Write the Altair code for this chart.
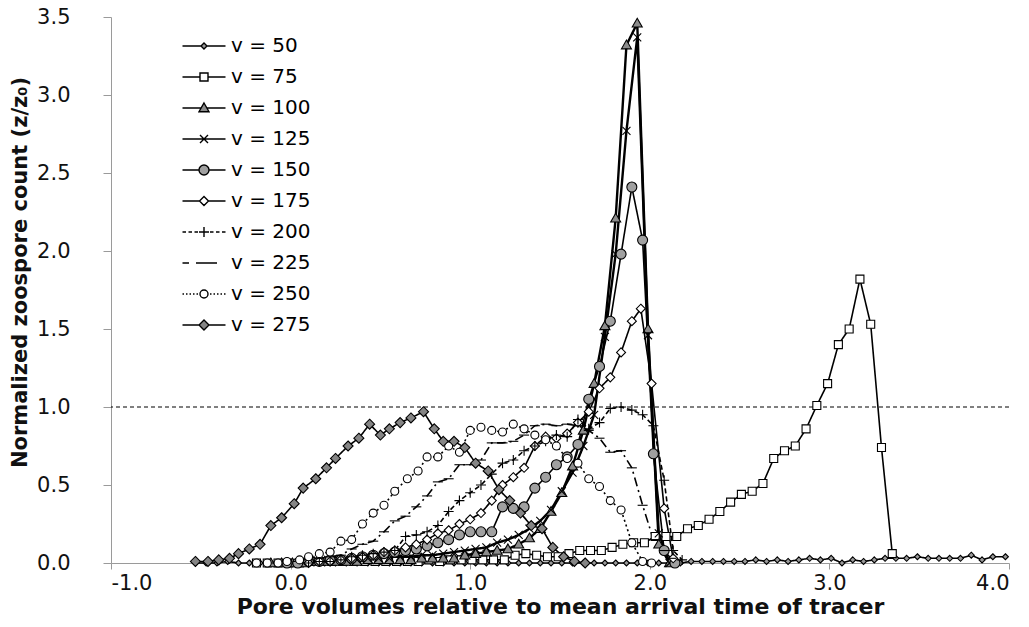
import altair as alt
import pandas as pd

series = ["v = 50", "v = 75", "v = 100", "v = 125", "v = 150",
          "v = 175", "v = 200", "v = 225", "v = 250", "v = 275"]

x50 = [-0.53, -0.47, -0.41, -0.35, -0.29, -0.23, -0.17, -0.11, -0.05, 0.01, 0.07, 0.13, 0.19, 0.25,
       0.31, 0.37, 0.43, 0.49, 0.55, 0.61, 0.67, 0.73, 0.79, 0.85, 0.91, 0.97, 1.03, 1.09, 1.15, 1.21,
       1.27, 1.33, 1.39, 1.45, 1.51, 1.57, 1.63, 1.69, 1.75, 1.81, 1.87, 1.93, 1.99, 2.05, 2.11, 2.17,
       2.23, 2.29, 2.35, 2.41, 2.47, 2.53, 2.59, 2.65, 2.71, 2.77, 2.83, 2.89, 2.95, 3.01, 3.07, 3.13,
       3.19, 3.25, 3.31, 3.37, 3.43, 3.49, 3.55, 3.61, 3.67, 3.73, 3.79, 3.85, 3.91, 3.98]
y50 = [0.00, 0.00, 0.00, 0.01, 0.00, 0.00, 0.00, 0.00, 0.00, 0.00, 0.00, 0.00, 0.00, 0.00,
       0.00, 0.00, 0.00, 0.00, 0.00, 0.00, 0.00, 0.00, 0.00, 0.00, 0.00, 0.00, 0.00, 0.00, 0.00, 0.00,
       0.00, 0.00, 0.00, 0.00, 0.00, 0.00, 0.00, 0.00, 0.00, 0.00, 0.00, 0.00, 0.00, 0.00, 0.00, 0.00,
       0.01, 0.01, 0.01, 0.01, 0.01, 0.01, 0.02, 0.01, 0.02, 0.01, 0.02, 0.03, 0.02, 0.03, 0.00, 0.02,
       0.01, 0.02, 0.03, 0.03, 0.03, 0.04, 0.03, 0.03, 0.03, 0.03, 0.05, 0.02, 0.04, 0.04]

x75 = [-0.19, -0.13, -0.07, -0.01, 0.05, 0.11, 0.17, 0.23, 0.29, 0.35, 0.41, 0.47, 0.53, 0.59, 0.65,
       0.71, 0.77, 0.83, 0.89, 0.95, 1.01, 1.07, 1.13, 1.19, 1.25, 1.31, 1.37, 1.43, 1.49, 1.55, 1.61,
       1.67, 1.73, 1.79, 1.85, 1.91, 1.97, 2.03, 2.09, 2.15, 2.21, 2.27, 2.33, 2.39, 2.45, 2.51, 2.57,
       2.63, 2.69, 2.75, 2.81, 2.87, 2.93, 2.99, 3.05, 3.11, 3.17, 3.23, 3.29, 3.35]
y75 = [0.00, 0.00, 0.00, 0.00, 0.00, 0.01, 0.01, 0.01, 0.01, 0.01, 0.01, 0.01, 0.01, 0.01, 0.01,
       0.01, 0.02, 0.01, 0.02, 0.02, 0.02, 0.02, 0.02, 0.02, 0.05, 0.06, 0.05, 0.04, 0.04, 0.06, 0.08,
       0.08, 0.08, 0.10, 0.12, 0.13, 0.13, 0.17, 0.17, 0.17, 0.22, 0.24, 0.28, 0.33, 0.39, 0.44, 0.46,
       0.51, 0.67, 0.72, 0.75, 0.86, 1.01, 1.15, 1.40, 1.50, 1.82, 1.53, 0.74, 0.06]

x100 = [-0.11, -0.05, 0.01, 0.07, 0.13, 0.19, 0.25, 0.31, 0.37, 0.43, 0.49, 0.55, 0.61, 0.67, 0.73,
        0.79, 0.85, 0.91, 0.97, 1.03, 1.09, 1.15, 1.21, 1.27, 1.33, 1.39, 1.45, 1.51, 1.57, 1.63, 1.69,
        1.75, 1.81, 1.87, 1.93, 1.99, 2.05, 2.11]
y100 = [0.00, 0.00, 0.00, 0.00, 0.01, 0.01, 0.01, 0.01, 0.01, 0.02, 0.02, 0.02, 0.02, 0.02, 0.03,
        0.03, 0.03, 0.03, 0.05, 0.06, 0.07, 0.08, 0.09, 0.12, 0.16, 0.22, 0.33, 0.45, 0.62, 0.85, 1.15,
        1.52, 2.21, 3.32, 3.46, 1.50, 0.12, 0.00]

x125 = [-0.05, 0.01, 0.07, 0.13, 0.19, 0.25, 0.31, 0.37, 0.43, 0.49, 0.55, 0.61, 0.67, 0.73, 0.79,
        0.85, 0.91, 0.97, 1.03, 1.09, 1.15, 1.21, 1.27, 1.33, 1.39, 1.45, 1.51, 1.57, 1.63, 1.69, 1.75,
        1.81, 1.87, 1.93, 1.99, 2.05, 2.11]
y125 = [0.00, 0.00, 0.01, 0.01, 0.01, 0.02, 0.02, 0.02, 0.03, 0.03, 0.03, 0.04, 0.04, 0.05, 0.05,
        0.06, 0.07, 0.08, 0.09, 0.10, 0.13, 0.15, 0.18, 0.22, 0.27, 0.34, 0.46, 0.58, 0.75, 0.95, 1.45,
        1.98, 2.77, 3.37, 1.46, 0.19, 0.00]

x150 = [-0.02, 0.04, 0.10, 0.16, 0.22, 0.28, 0.34, 0.40, 0.46, 0.52, 0.58, 0.64, 0.70, 0.76, 0.82,
        0.88, 0.94, 1.00, 1.06, 1.12, 1.18, 1.24, 1.30, 1.36, 1.42, 1.48, 1.54, 1.60, 1.66, 1.72, 1.78,
        1.84, 1.90, 1.96, 2.02, 2.08, 2.14]
y150 = [0.00, 0.00, 0.01, 0.01, 0.02, 0.02, 0.03, 0.04, 0.05, 0.06, 0.07, 0.08, 0.09, 0.11, 0.13,
        0.15, 0.18, 0.20, 0.20, 0.20, 0.36, 0.35, 0.36, 0.48, 0.55, 0.63, 0.68, 0.76, 1.05, 1.26, 1.55,
        1.98, 2.41, 2.07, 0.70, 0.08, 0.00]

x175 = [0.10, 0.16, 0.22, 0.28, 0.34, 0.40, 0.46, 0.52, 0.58, 0.64, 0.70, 0.76, 0.82, 0.88, 0.94,
        1.00, 1.06, 1.12, 1.18, 1.24, 1.30, 1.36, 1.42, 1.48, 1.54, 1.60, 1.66, 1.72, 1.78, 1.84, 1.90,
        1.95, 2.01, 2.08, 2.13]
y175 = [0.00, 0.01, 0.01, 0.02, 0.03, 0.04, 0.05, 0.07, 0.08, 0.10, 0.12, 0.15, 0.19, 0.21, 0.25,
        0.28, 0.32, 0.40, 0.50, 0.55, 0.61, 0.75, 0.81, 0.80, 0.83, 0.90, 0.97, 1.12, 1.19, 1.35, 1.55,
        1.63, 1.15, 0.35, 0.03]

x200 = [0.10, 0.16, 0.22, 0.28, 0.34, 0.40, 0.46, 0.52, 0.58, 0.64, 0.70, 0.76, 0.82, 0.88, 0.94,
        1.00, 1.06, 1.12, 1.18, 1.24, 1.30, 1.36, 1.42, 1.48, 1.54, 1.60, 1.66, 1.72, 1.78, 1.84, 1.90,
        1.96, 2.02, 2.08, 2.13, 2.18]
y200 = [0.00, 0.01, 0.01, 0.02, 0.04, 0.05, 0.06, 0.07, 0.08, 0.17, 0.18, 0.20, 0.24, 0.33, 0.40,
        0.45, 0.50, 0.57, 0.64, 0.66, 0.72, 0.75, 0.78, 0.82, 0.81, 0.92, 0.86, 0.90, 0.99, 1.00, 0.98,
        0.95, 0.88, 0.53, 0.08, 0.02]

x225 = [-0.08, -0.02, 0.04, 0.10, 0.16, 0.22, 0.28, 0.34, 0.40, 0.46, 0.52, 0.58, 0.64, 0.70, 0.76,
        0.82, 0.88, 0.94, 1.00, 1.06, 1.12, 1.18, 1.24, 1.30, 1.36, 1.42, 1.48, 1.54, 1.60, 1.66, 1.72,
        1.78, 1.84, 1.90, 1.96, 2.02, 2.08, 2.12]
y225 = [0.00, 0.01, 0.01, 0.02, 0.03, 0.04, 0.05, 0.09, 0.12, 0.14, 0.20, 0.27, 0.30, 0.36, 0.43,
        0.52, 0.54, 0.63, 0.63, 0.66, 0.77, 0.77, 0.78, 0.82, 0.88, 0.89, 0.88, 0.89, 0.88, 0.85, 0.80,
        0.71, 0.72, 0.61, 0.37, 0.15, 0.08, 0.03]

x250 = [-0.19, -0.13, -0.07, -0.02, 0.05, 0.10, 0.16, 0.22, 0.28, 0.34, 0.40, 0.46, 0.52, 0.58, 0.65,
        0.71, 0.76, 0.82, 0.88, 0.94, 1.00, 1.06, 1.12, 1.18, 1.24, 1.30, 1.36, 1.42, 1.48, 1.54, 1.60,
        1.66, 1.72, 1.78, 1.84, 1.90, 1.96, 2.01]
y250 = [0.00, 0.00, 0.00, 0.01, 0.02, 0.04, 0.06, 0.07, 0.14, 0.15, 0.25, 0.32, 0.37, 0.46, 0.54,
        0.59, 0.68, 0.68, 0.75, 0.71, 0.85, 0.87, 0.85, 0.84, 0.89, 0.86, 0.82, 0.79, 0.75, 0.67, 0.64,
        0.54, 0.49, 0.40, 0.34, 0.13, 0.01, 0.00]

x275 = [-0.53, -0.46, -0.40, -0.34, -0.29, -0.23, -0.17, -0.11, -0.05, 0.02, 0.07, 0.14, 0.20, 0.25,
        0.32, 0.38, 0.44, 0.50, 0.55, 0.61, 0.67, 0.74, 0.80, 0.85, 0.91, 0.97, 1.03, 1.10, 1.16, 1.22,
        1.28, 1.34, 1.40, 1.46, 1.52, 1.58, 1.64]
y275 = [0.01, 0.01, 0.02, 0.03, 0.06, 0.09, 0.12, 0.24, 0.29, 0.38, 0.48, 0.54, 0.61, 0.67,
        0.75, 0.80, 0.89, 0.82, 0.86, 0.90, 0.93, 0.97, 0.86, 0.78, 0.78, 0.74, 0.64, 0.59, 0.47, 0.40,
        0.32, 0.24, 0.22, 0.10, 0.04, 0.01, 0.00]

xs = [x50, x75, x100, x125, x150, x175, x200, x225, x250, x275]
ys = [y50, y75, y100, y125, y150, y175, y200, y225, y250, y275]

rows = []
for name, xv, yv in zip(series, xs, ys):
    for a, b in zip(xv, yv):
        rows.append({"series": name, "x": a, "y": b})
df = pd.DataFrame(rows)

# styles
dashes = [[1, 0], [1, 0], [1, 0], [1, 0], [1, 0], [1, 0], [5, 3], [9, 4, 2, 4], [2, 3], [1, 0]]
fills = ["#9a9a9a", "#ffffff", "#8c8c8c", "#000000", "#a0a0a0",
         "#ffffff", "#000000", "#000000", "#ffffff", "#858585"]
strokes = ["black"] * 10


def circ(r):
    return f"M{r},0A{r},{r},0,1,1,{-r},0A{r},{r},0,1,1,{r},0Z"


def diam(r):
    return f"M0,{-r}L{r},0L0,{r}L{-r},0Z"


def sq(r):
    return f"M{-r},{-r}H{r}V{r}H{-r}Z"


tri = "M0,-1L1,0.75L-1,0.75Z"
xmark = "M-0.8,-0.8L0.8,0.8M-0.8,0.8L0.8,-0.8"
plus = "M-1,0H1M0,-1V1"
dash = "M-1,0H1"

markers = [diam(0.6), sq(0.8), tri, xmark, circ(1.0), diam(0.9), plus, dash, circ(0.8), diam(1.0)]

L = 4.3
def seg(a, b):
    return f"M{a},0H{b}"

leg = [
    seg(-L, -0.6) + seg(0.6, L) + diam(0.6),
    seg(-L, -0.8) + seg(0.8, L) + sq(0.8),
    seg(-L, -0.5) + seg(0.5, L) + tri,
    seg(-L, L) + xmark,
    seg(-L, -1) + seg(1, L) + circ(1.0),
    seg(-L, -0.9) + seg(0.9, L) + diam(0.9),
    seg(-L, -3.6) + seg(-3.1, -2.4) + seg(-1.9, -1.2) + plus + seg(1.2, 1.9) + seg(2.4, 3.1) + seg(3.6, L),
    seg(-L, -3.0) + seg(-1.6, 2.6),
    seg(-4.3, -4.0) + seg(-3.6, -3.3) + seg(-2.9, -2.6) + seg(-2.2, -1.9) + seg(-1.5, -1.2) + circ(0.8)
    + seg(1.2, 1.5) + seg(1.9, 2.2) + seg(2.6, 2.9) + seg(3.3, 3.6) + seg(4.0, 4.3),
    seg(-L, -1) + seg(1, L) + diam(1.0),
]

xs_scale = alt.Scale(domain=[-1, 4], nice=False, zero=False)
ys_scale = alt.Scale(domain=[0, 3.5], nice=False)

x_axis = alt.Axis(
    values=[-1, 0, 1, 2, 3, 4],
    labelExpr="datum.value < 0 ? '-' + format(-datum.value, '.1f') : format(datum.value, '.1f')",
    title="Pore volumes relative to mean arrival time of tracer",
    titleX=449, titleY=50, titleBaseline="alphabetic", titleAlign="center", titleFontSize=22,
    tickSize=6, labelPadding=3, grid=False,
)
y_axis = alt.Axis(
    values=[0, 0.5, 1, 1.5, 2, 2.5, 3, 3.5], format=".1f",
    title="Normalized zoospore count (z/z\u2080)",
    titleX=-91, titleY=255, titleAngle=270, titleBaseline="middle", titleAlign="center",
    tickSize=8, labelPadding=33, grid=False,
)

base = alt.Chart(df)

ref = alt.Chart(pd.DataFrame({"y": [1.0]})).mark_rule(
    stroke="black", strokeWidth=1, strokeDash=[4, 3]
).encode(y=alt.Y("y:Q", scale=ys_scale))

dash_scale = alt.Scale(domain=series, range=dashes)

thin = base.transform_filter(
    "datum.series != 'v = 100' && datum.series != 'v = 125'"
).mark_line(color="black", strokeWidth=1.6).encode(
    x=alt.X("x:Q", scale=xs_scale, axis=x_axis),
    y=alt.Y("y:Q", scale=ys_scale, axis=y_axis),
    strokeDash=alt.StrokeDash("series:N", scale=dash_scale, legend=None),
)

thick = base.transform_filter(
    "datum.series == 'v = 100' || datum.series == 'v = 125'"
).mark_line(color="black", strokeWidth=2.4).encode(
    x=alt.X("x:Q", scale=xs_scale),
    y=alt.Y("y:Q", scale=ys_scale),
    strokeDash=alt.StrokeDash("series:N", scale=dash_scale, legend=None),
)

points = base.mark_point(filled=True, stroke="black", strokeWidth=1.1, size=100, opacity=1).encode(
    x=alt.X("x:Q", scale=xs_scale),
    y=alt.Y("y:Q", scale=ys_scale),
    shape=alt.Shape("series:N", scale=alt.Scale(domain=series, range=markers), legend=None),
    fill=alt.Fill("series:N", scale=alt.Scale(domain=series, range=fills), legend=None),
)


def make_legend():
    return alt.Legend(title=None, orient="none", legendX=83, legendY=19,
                      symbolSize=100, labelOffset=17, rowPadding=11,
                      symbolStrokeWidth=1.4,
                      labelFont="DejaVu Sans", labelFontSize=20,
                      labelColor="black", padding=0)


legend_layer = base.transform_filter("false").mark_point(
    filled=True, strokeWidth=1.4, size=100, opacity=1
).encode(
    x=alt.X("x:Q", scale=xs_scale),
    y=alt.Y("y:Q", scale=ys_scale),
    shape=alt.Shape("series:N", scale=alt.Scale(domain=series, range=leg), legend=make_legend()),
    fill=alt.Fill("series:N", scale=alt.Scale(domain=series, range=fills), legend=make_legend()),
    stroke=alt.Stroke("series:N", scale=alt.Scale(domain=series, range=strokes), legend=make_legend()),
)

chart = alt.layer(ref, thin, thick, points, legend_layer).resolve_scale(
    shape="independent", fill="independent", stroke="independent"
).properties(
    width=898, height=546,
    padding={"left": 111, "top": 17, "right": 20, "bottom": 64},
    autosize=alt.AutoSizeParams(type="none"),
    background="white",
).configure_view(strokeWidth=0).configure_axis(
    domainColor="#9a9a9a", tickColor="#9a9a9a", domainWidth=1, tickWidth=1,
    labelFont="DejaVu Sans", labelFontSize=21, labelColor="#111111",
    titleFont="DejaVu Sans", titleFontWeight="bold", titleFontSize=21, titleColor="#111111",
)

chart.save("out.html", embed_options={"renderer": "svg", "actions": False})
